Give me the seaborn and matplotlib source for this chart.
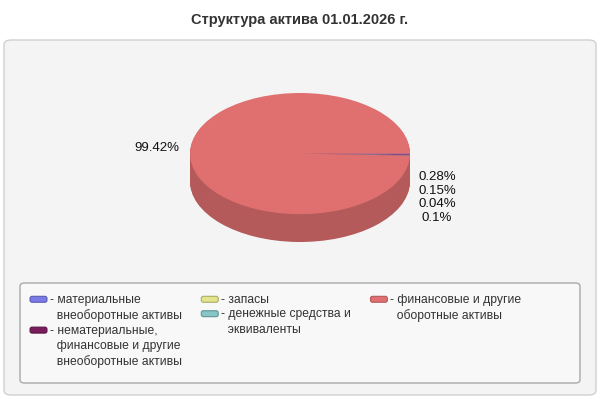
import matplotlib
matplotlib.use('Agg')
import matplotlib.pyplot as plt
import seaborn as sns
from matplotlib.patches import FancyBboxPatch, Patch
from matplotlib.legend_handler import HandlerPatch

# Data
categories = ['материальные\nвнеоборотные активы',
              'нематериальные,\nфинансовые и другие\nвнеоборотные активы',
              'запасы',
              'денежные средства и\nэквиваленты',
              'финансовые и другие\nоборотные активы']
values = [0.28, 0.15, 0.04, 0.1, 99.42]
top_colors = ['#7b7be8', '#7a1d5c', '#e4e48c', '#86c6c6', '#e07070']
side_colors = ['#5c5cb0', '#5a1444', '#aaaa68', '#649494', '#b45a5a']
title = 'Структура актива 01.01.2026 г.'

sns.set_theme(style='white')
plt.rcParams['font.family'] = ['Liberation Sans', 'DejaVu Sans']

fig = plt.figure(figsize=(6, 4), dpi=100)
fig.patch.set_facecolor('white')

# Outer panel
fig.patches.append(FancyBboxPatch((4 / 600, 5 / 400), 592 / 600, 355 / 400,
                                  boxstyle='round,pad=0,rounding_size=0.012',
                                  transform=fig.transFigure, facecolor='#f4f4f4',
                                  edgecolor='#d0d0d0', linewidth=1, zorder=-2))
# Legend panel
fig.patches.append(FancyBboxPatch((20 / 600, 17 / 400), 560 / 600, 100 / 400,
                                  boxstyle='round,pad=0,rounding_size=0.008',
                                  transform=fig.transFigure, facecolor='#f8f8f8',
                                  edgecolor='#a8a8a8', linewidth=1, zorder=-1))

fig.text(0.5, 1 - 20 / 400, title, ha='center', va='center', fontsize=10.5,
         fontweight='bold', color='#333333')

depth = 0.46
ax = fig.add_axes([190 / 600, 158 / 400, 220 / 600, 149 / 400])
ax.patch.set_alpha(0)
n_layers = 30
for k in range(n_layers, 0, -1):
    ax.pie(values, colors=side_colors, startangle=0, counterclock=False,
           center=(0, -depth * k / n_layers), radius=1,
           wedgeprops=dict(linewidth=0))
wedges, _ = ax.pie(values, colors=top_colors, startangle=0, counterclock=False,
                   center=(0, 0), radius=1, wedgeprops=dict(linewidth=0))
ax.set_aspect('auto')
ax.set_xlim(-1, 1)
ax.set_ylim(-1 - depth, 1)
ax.axis('off')

# Percent labels
ax.text(-1.1, 0.1, f'{values[4]:.2f}%', ha='right', va='center', fontsize=9.5,
        color='#111111')
for i, v in enumerate(values[:4]):
    ax.text(1.245, -0.39 - i * 0.225, f'{v:g}%', ha='center', va='center',
            fontsize=9.5, color='#111111')


def swatch(legend, orig_handle, xdescent, ydescent, width, height, fontsize):
    return FancyBboxPatch((-xdescent, -ydescent + height * 0.24), width, height * 0.55,
                          boxstyle='round,pad=0,rounding_size=1.5')


handles = [Patch(facecolor=c, edgecolor=s, linewidth=0.8) for c, s in zip(top_colors, side_colors)]
labels = ['- ' + c.replace('\n', '\n  ') for c in categories]
leg = fig.legend(handles, labels, ncol=3, loc='upper left',
                 bbox_to_anchor=(24 / 600, 1 - 288 / 400), frameon=False,
                 fontsize=8.7, handlelength=1.4, handleheight=1.0,
                 handletextpad=0.25, columnspacing=1.6, labelspacing=0.2,
                 borderpad=0, alignment='left',
                 handler_map={Patch: HandlerPatch(patch_func=swatch)})
for t in leg.get_texts():
    t.set_color('#333333')
    t.set_linespacing(1.35)
# align swatches with the first text line, columns with the top
leg._legend_handle_box.align = 'top'
for col in leg._legend_handle_box.get_children():
    col.align = 'left'
    for row in col.get_children():
        row.align = 'top'

fig.savefig('out.png', dpi=100, facecolor='white')
